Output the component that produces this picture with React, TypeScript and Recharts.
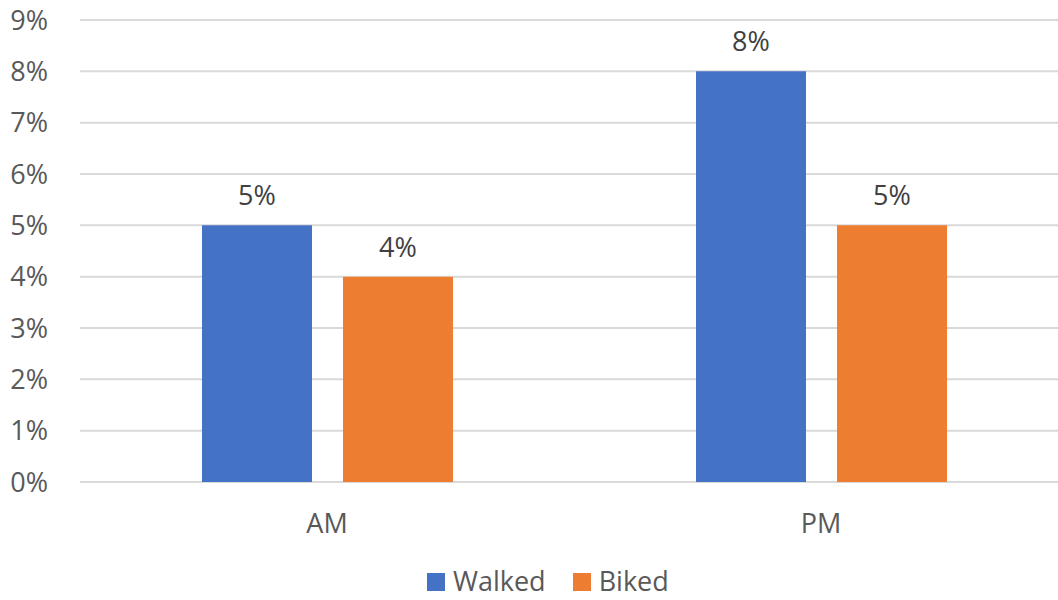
import React from 'react';
import { BarChart, Bar, XAxis, YAxis, CartesianGrid, Legend, LabelList } from 'recharts';

const periods = ['AM', 'PM'];
const walked = [5, 8];
const biked = [4, 5];
const yTicks = [0, 1, 2, 3, 4, 5, 6, 7, 8, 9];

const data = periods.map((p, i) => ({ name: p, Walked: walked[i], Biked: biked[i] }));

const font = "'Open Sans', sans-serif";
const pct = (v: number) => `${v}%`;

const legendItems = [
  { label: 'Walked', color: '#4472C4' },
  { label: 'Biked', color: '#ED7D31' },
];

const renderLegend = () => (
  <div style={{ display: 'flex', alignItems: 'center', fontFamily: font, fontSize: 27, lineHeight: '27px', color: '#595959' }}>
    {legendItems.map((it, i) => (
      <div key={it.label} style={{ display: 'flex', alignItems: 'center', marginRight: i === 0 ? 27 : 0 }}>
        <span style={{ width: 18, height: 18, background: it.color, marginRight: 8, marginTop: 2, display: 'inline-block' }} />
        <span>{it.label}</span>
      </div>
    ))}
  </div>
);

export default function App() {
  return (
    <div style={{ position: 'absolute', left: 0, top: 0, width: 1058, height: 600, overflow: 'hidden', background: '#fff' }}>
      <BarChart
        width={1068}
        height={600}
        data={data}
        margin={{ top: 20, right: 0, left: 0, bottom: 0 }}
        barGap={31}
        barSize={110}
      >
        <CartesianGrid vertical={false} stroke="#d9d9d9" strokeWidth={2} />
        <XAxis
          dataKey="name"
          height={118}
          axisLine={false}
          tickLine={false}
          tickSize={0}
          tickMargin={32}
          tick={{ fill: '#595959', fontSize: 27, fontFamily: font }}
        />
        <YAxis
          width={80}
          domain={[0, 9]}
          ticks={yTicks}
          tickFormatter={pct}
          axisLine={false}
          tickLine={false}
          tickSize={0}
          tickMargin={32}
          tick={{ fill: '#595959', fontSize: 27, fontFamily: font }}
        />
        <Legend
          layout="horizontal"
          verticalAlign="middle"
          content={renderLegend}
          wrapperStyle={{ left: 427, top: 567, width: 'auto' }}
        />
        <Bar dataKey="Walked" fill="#4472C4" isAnimationActive={false}>
          <LabelList dataKey="Walked" position="top" offset={20} formatter={pct} fill="#404040" fontSize={27} fontFamily={font} />
        </Bar>
        <Bar dataKey="Biked" fill="#ED7D31" isAnimationActive={false}>
          <LabelList dataKey="Biked" position="top" offset={20} formatter={pct} fill="#404040" fontSize={27} fontFamily={font} />
        </Bar>
      </BarChart>
    </div>
  );
}
